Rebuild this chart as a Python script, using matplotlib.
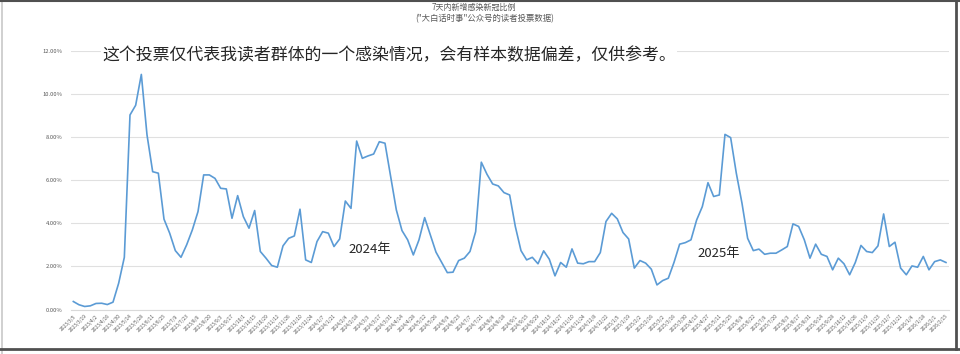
import numpy as np
import pandas as pd
import matplotlib
matplotlib.use('Agg')
import matplotlib.pyplot as plt
from matplotlib.ticker import FuncFormatter

plt.rcParams['font.family'] = ['Noto Sans CJK SC', 'DejaVu Sans']

# weekly dates, one vote per week
dates = pd.date_range('2023-03-05', '2026-02-15', freq='7D')
date_labels = [f'{d.year}/{d.month}/{d.day}' for d in dates]

# infection ratio in percent
ratio = [
    0.37, 0.22, 0.14, 0.17, 0.28, 0.29, 0.23, 0.34, 1.22, 2.42,
    9.02, 9.47, 10.90, 8.10, 6.39, 6.32, 4.19, 3.54, 2.73, 2.42,
    3.00, 3.69, 4.54, 6.24, 6.24, 6.08, 5.62, 5.59, 4.23, 5.28,
    4.31, 3.77, 4.59, 2.69, 2.38, 2.04, 1.96, 2.95, 3.30, 3.41,
    4.65, 2.30, 2.18, 3.15, 3.61, 3.54, 2.92, 3.27, 5.03, 4.69,
    7.81, 7.01, 7.12, 7.21, 7.78, 7.71, 6.16, 4.62, 3.66, 3.23,
    2.53, 3.23, 4.26, 3.46, 2.66, 2.18, 1.71, 1.73, 2.27, 2.38,
    2.69, 3.61, 6.83, 6.27, 5.82, 5.73, 5.42, 5.31, 3.85, 2.73,
    2.30, 2.42, 2.12, 2.72, 2.33, 1.56, 2.18, 1.96, 2.81, 2.15,
    2.12, 2.22, 2.22, 2.64, 4.08, 4.46, 4.20, 3.57, 3.27, 1.92,
    2.27, 2.15, 1.87, 1.14, 1.34, 1.45, 2.18, 3.03, 3.10, 3.23,
    4.15, 4.77, 5.88, 5.24, 5.31, 8.12, 7.97, 6.32, 4.93, 3.30,
    2.73, 2.80, 2.56, 2.61, 2.61, 2.76, 2.92, 3.97, 3.85, 3.23,
    2.38, 3.03, 2.56, 2.46, 1.84, 2.38, 2.12, 1.61, 2.18, 2.97,
    2.69, 2.64, 2.95, 4.43, 2.92, 3.12, 1.92, 1.61, 2.02, 1.96,
    2.46, 1.84, 2.22, 2.30, 2.18,
]

title = '7天内新增感染新冠比例'
subtitle = '("大白话时事"公众号的读者投票数据)'
note = '这个投票仅代表我读者群体的一个感染情况，会有样本数据偏差，仅供参考。'

W, H = 960, 354
fig = plt.figure(figsize=(W / 100, H / 100), dpi=100)
ax = fig.add_axes([70.5 / W, (H - 309.5) / H, (948.8 - 70.5) / W, (309.5 - 50.7) / H])

x = np.arange(len(ratio))
ax.plot(x, ratio, color='#5B9BD5', lw=1.2, solid_joinstyle='round')

ax.set_xlim(-0.5, len(ratio) - 0.5)
ax.set_ylim(0, 12)
ax.set_yticks(np.arange(0, 12.1, 2))
ax.yaxis.set_major_formatter(FuncFormatter(lambda v, p: f'{v:.2f}%'))
ax.grid(axis='y', color='#e0e0e0', lw=0.8)
ax.set_axisbelow(True)
for s in ['top', 'right', 'left']:
    ax.spines[s].set_visible(False)
ax.spines['bottom'].set_color('#d9d9d9')
ax.spines['bottom'].set_linewidth(0.8)

ax.set_xticks(x[::2])
ax.set_xticklabels(date_labels[::2], rotation=45, ha='right', rotation_mode='anchor',
                   fontsize=3.5, color='#595959')
ax.tick_params(axis='x', length=0, pad=3)
ax.tick_params(axis='y', length=0, pad=6, labelsize=4.2, labelcolor='#595959')

fig.text(474 / W, 1 - 7 / H, title, ha='center', va='center', fontsize=5.8, color='#595959')
fig.text(485 / W, 1 - 19 / H, subtitle, ha='center', va='center', fontsize=6.0, color='#595959')

fig.text(102 / W, 1 - 55 / H, note, ha='left', va='center', fontsize=12.2, color='#262626',
         bbox=dict(facecolor='white', edgecolor='none', pad=1))
# spell-check style underline under 我读者
fig.add_artist(plt.Line2D([222 / W, 269 / W], [1 - 64 / H, 1 - 64 / H], color='#8fb4e3', lw=1.2))

fig.text(348 / W, 1 - 250 / H, '2024年', ha='left', va='center', fontsize=9.5, color='#262626')
fig.text(697 / W, 1 - 253 / H, '2025年', ha='left', va='center', fontsize=9.5, color='#262626')

# screenshot frame
fig.add_artist(plt.Line2D([2 / W, 2 / W], [0, 1], color='#c8c8c8', lw=1.2))
fig.add_artist(plt.Line2D([0, 1], [1 - 0.5 / H, 1 - 0.5 / H], color='#505050', lw=1.5))
fig.add_artist(plt.Line2D([0, 1], [1 - 349 / H, 1 - 349 / H], color='#505050', lw=2))
fig.add_artist(plt.Line2D([956 / W, 956 / W], [1 - 349 / H, 1], color='#505050', lw=2))

fig.savefig('out.png', dpi=100)
